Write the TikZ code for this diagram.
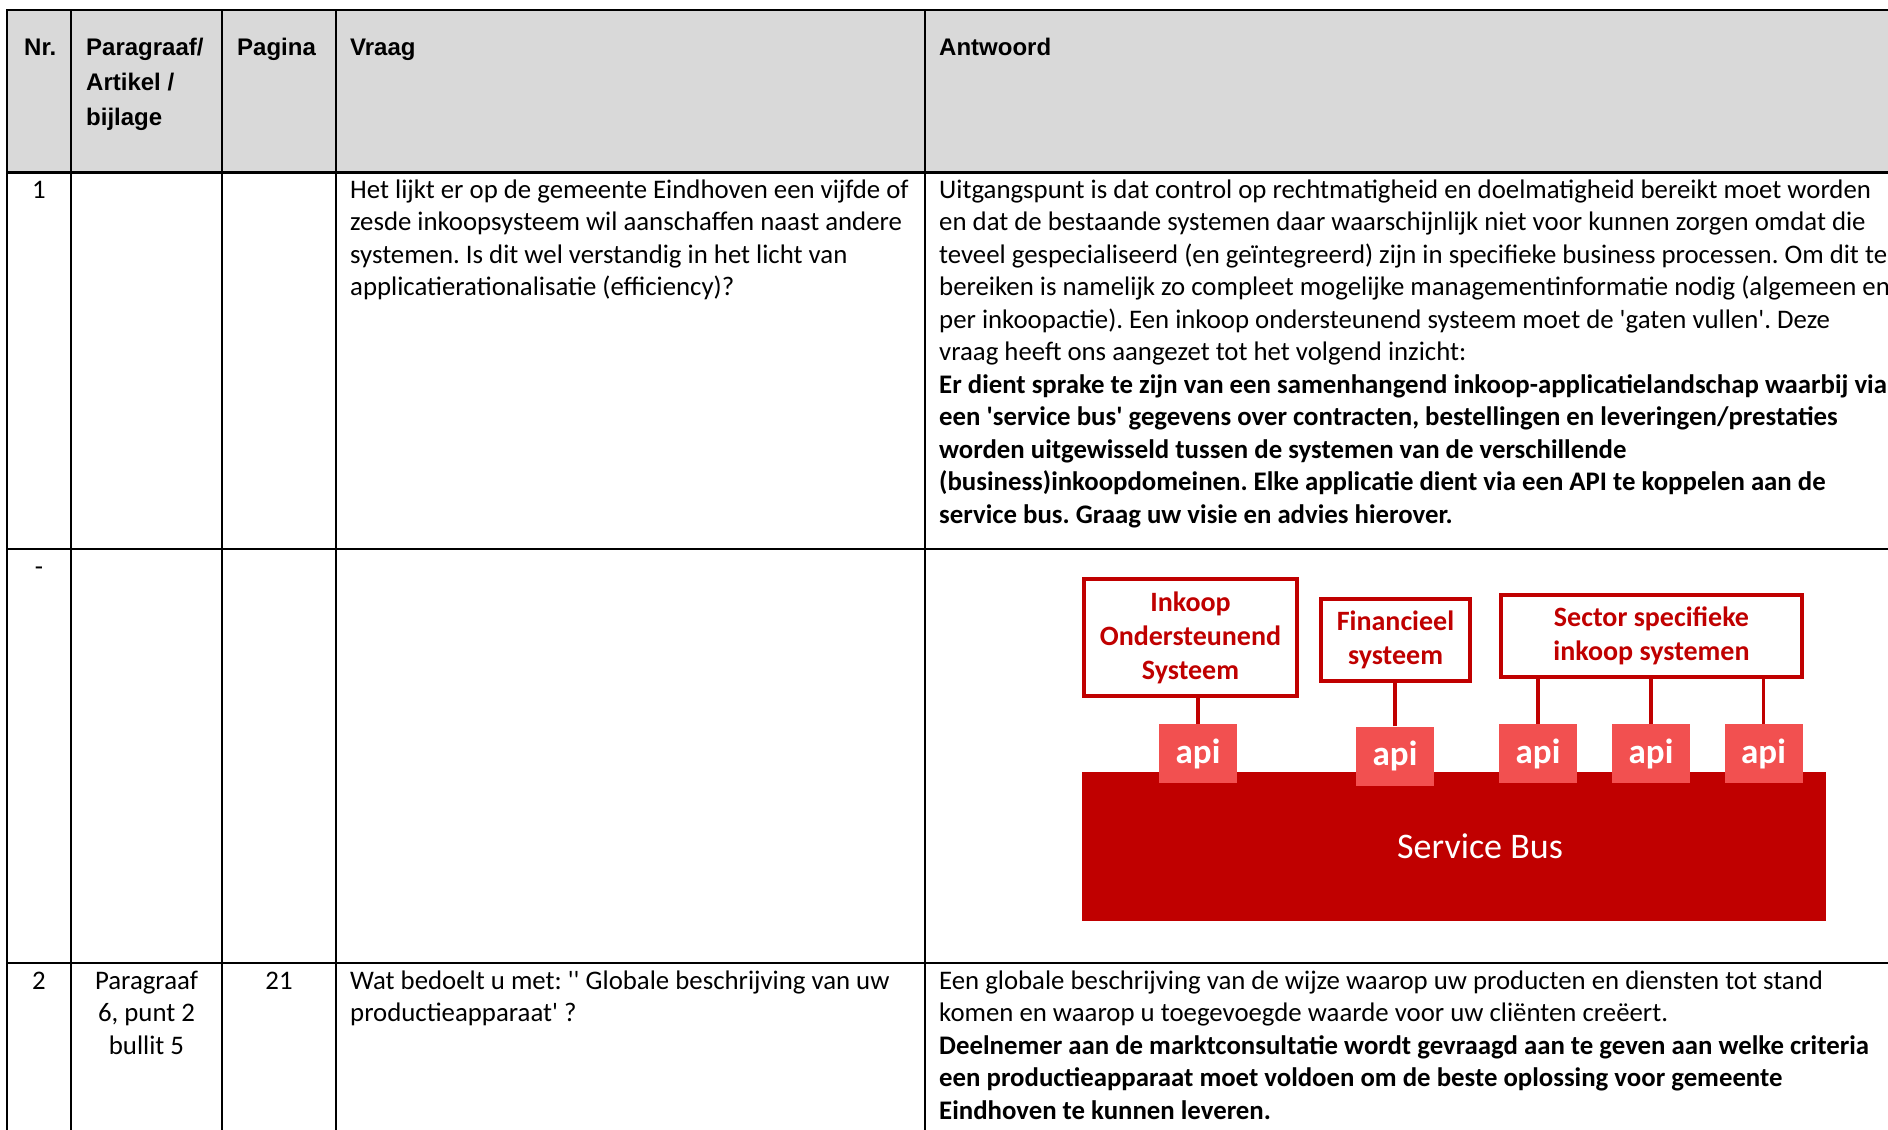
\documentclass[tikz,border=0pt]{standalone}
\usepackage{fontspec}
\setmainfont{Carlito}
\newfontfamily\hdrfont{Liberation Sans}
\usetikzlibrary{calc}
\definecolor{hdrgray}{RGB}{217,217,217}
\definecolor{darkred}{RGB}{192,0,0}
\definecolor{apired}{RGB}{242,80,80}
\newcommand{\sq}{\textquotesingle}
\begin{document}
\frenchspacing
\begin{tikzpicture}[x=1pt,y=-1pt,
  gridline/.style={line width=2pt, black},
  hdrrule/.style={line width=3pt, black},
  body/.style={anchor=base west, inner sep=0pt, font=\fontsize{26.8}{32.5}\selectfont},
  bodyb/.style={anchor=base west, inner sep=0pt, font=\fontsize{26.8}{32.5}\selectfont\bfseries},
  bodyc/.style={anchor=base, inner sep=0pt, font=\fontsize{26.8}{32.5}\selectfont},
  hdr/.style={anchor=base west, inner sep=0pt, font=\hdrfont\bfseries\fontsize{24}{35}\selectfont},
  sysbox/.style={draw=darkred, line width=4pt, fill=white, inner sep=0pt, align=center, text=darkred, font=\bfseries\fontsize{28}{34}\selectfont},
  apibox/.style={fill=apired, inner sep=0pt, minimum width=78pt, minimum height=59pt, text=white, font=\bfseries\fontsize{35}{40}\selectfont},
  link/.style={draw=darkred, line width=3.5pt},
]
\useasboundingbox[fill=white] (0,0) rectangle (1888,1130);
% header background
\fill[hdrgray] (7,10) rectangle (1888,172);
% grid
\draw[gridline] (7,10) -- (1888,10);
\draw[gridline] (7,549) -- (1888,549);
\draw[gridline] (7,963) -- (1888,963);
\draw[hdrrule] (7,172) -- (1888,172);
\foreach \cx in {7,71,222,336,925} \draw[gridline] (\cx,9) -- (\cx,1130);

% header texts
\node[hdr] (hnr) at (24,55) {Nr.};
\node[hdr] (hpar1) at (86,55) {Paragraaf/};
\node[hdr] (hpar2) at (86,90) {Artikel /};
\node[hdr] (hpar3) at (86,125) {bijlage};
\node[hdr] (hpag) at (237,55) {Pagina};
\node[hdr] (hvr) at (350,55) {Vraag};
\node[hdr] (hant) at (939,55) {Antwoord};

% row 1
\node[bodyc] (r1nr) at (39,198) {1};
\node[body] (r1v1) at (350,198) {Het lijkt er op de gemeente Eindhoven een vijfde of};
\node[body] (r1v2) at (350,230.5) {zesde inkoopsysteem wil aanschaffen naast andere};
\node[body] (r1v3) at (350,263) {systemen. Is dit wel verstandig in het licht van};
\node[body] (r1v4) at (350,295.5) {applicatierationalisatie (efficiency)?};

\node[body] (r1a1) at (939,198) {Uitgangspunt is dat control op rechtmatigheid en doelmatigheid bereikt moet worden};
\node[body] (r1a2) at (939,230.5) {en dat de bestaande systemen daar waarschijnlijk niet voor kunnen zorgen omdat die};
\node[body] (r1a3) at (939,263) {teveel gespecialiseerd (en geïntegreerd) zijn in specifieke business processen. Om dit te};
\node[body] (r1a4) at (939,295.5) {bereiken is namelijk zo compleet mogelijke managementinformatie nodig (algemeen en};
\node[body] (r1a5) at (939,328) {per inkoopactie). Een inkoop ondersteunend systeem moet de \sq gaten vullen\sq. Deze};
\node[body] (r1a6) at (939,360.5) {vraag heeft ons aangezet tot het volgend inzicht:};
\node[bodyb] (r1a7) at (939,393) {Er dient sprake te zijn van een samenhangend inkoop-applicatielandschap waarbij via};
\node[bodyb] (r1a8) at (939,425.5) {een \sq service bus\sq{} gegevens over contracten, bestellingen en leveringen/prestaties};
\node[bodyb] (r1a9) at (939,458) {worden uitgewisseld tussen de systemen van de verschillende};
\node[bodyb] (r1a10) at (939,490.5) {(business)inkoopdomeinen. Elke applicatie dient via een API te koppelen aan de};
\node[bodyb] (r1a11) at (939,523) {service bus. Graag uw visie en advies hierover.};

% row 2
\node[bodyc] (r2nr) at (39,575) {-};

% diagram
\node[fill=darkred, inner sep=0pt, minimum width=744pt, minimum height=149pt] (bus) at (1454,846.5) {};
\node[inner sep=0pt, text=white, font=\fontsize{36}{40}\selectfont] (buslabel) at (1480,846) {Service Bus};
\node[apibox] (api1) at (1198,753.5) {api};
\node[apibox] (api2) at (1395,756) {api};
\node[apibox] (api3) at (1538,753.5) {api};
\node[apibox] (api4) at (1651,753.5) {api};
\node[apibox] (api5) at (1763.5,753.5) {api};
\node[sysbox, minimum width=213pt, minimum height=117pt] (inkoop) at (1190.5,637.5) {Inkoop\\Ondersteunend\\Systeem};
\node[sysbox, minimum width=149pt, minimum height=82pt] (fin) at (1395.5,640) {Financieel\\systeem};
\node[sysbox, minimum width=301pt, minimum height=82pt] (sector) at (1651.5,636) {Sector specifieke\\inkoop systemen};
\draw[link] (api1.north) -- (api1.north |- inkoop.south);
\draw[link] (api2.north) -- (api2.north |- fin.south);
\draw[link] (api3.north) -- (api3.north |- sector.south);
\draw[link] (api4.north) -- (api4.north |- sector.south);
\draw[link] (api5.north) -- (api5.north |- sector.south);

% row 3
\node[bodyc] (r3nr) at (39,989) {2};
\node[bodyc] (r3p1) at (146.5,989) {Paragraaf};
\node[bodyc] (r3p2) at (146.5,1021.5) {6, punt 2};
\node[bodyc] (r3p3) at (146.5,1054) {bullit 5};
\node[bodyc] (r3pag) at (279,989) {21};
\node[body] (r3v1) at (350,989) {Wat bedoelt u met: \sq\sq{} Globale beschrijving van uw};
\node[body] (r3v2) at (350,1021.5) {productieapparaat\sq{} ?};
\node[body] (r3a1) at (939,989) {Een globale beschrijving van de wijze waarop uw producten en diensten tot stand};
\node[body] (r3a2) at (939,1021.5) {komen en waarop u toegevoegde waarde voor uw cliënten creëert.};
\node[bodyb] (r3a3) at (939,1054) {Deelnemer aan de marktconsultatie wordt gevraagd aan te geven aan welke criteria};
\node[bodyb] (r3a4) at (939,1086.5) {een productieapparaat moet voldoen om de beste oplossing voor gemeente};
\node[bodyb] (r3a5) at (939,1119) {Eindhoven te kunnen leveren.};
\end{tikzpicture}
\end{document}
